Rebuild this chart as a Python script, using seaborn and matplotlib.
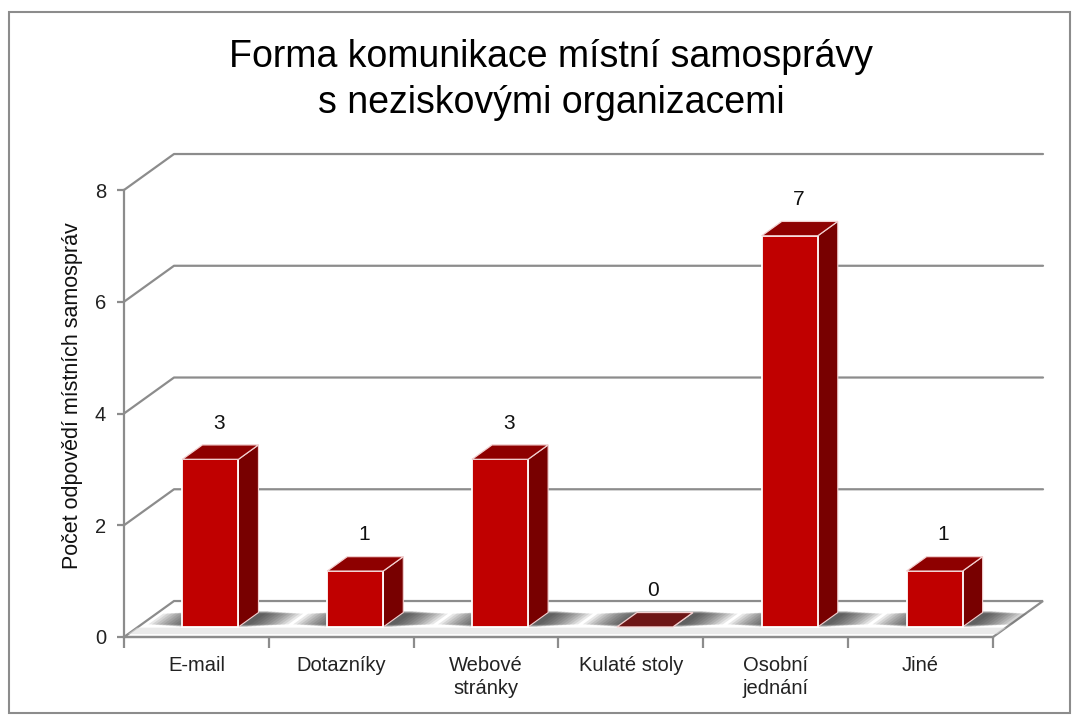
import matplotlib
matplotlib.use("Agg")
import matplotlib.pyplot as plt
from matplotlib.patches import Polygon, Rectangle
import seaborn as sns

categories = ["E-mail", "Dotazníky", "Webové\nstránky", "Kulaté stoly", "Osobní\njednání", "Jiné"]
values = [3, 1, 3, 0, 7, 1]
yticks = [0, 2, 4, 6, 8]
title = "Forma komunikace místní samosprávy\ns neziskovými organizacemi"
ylabel = "Počet odpovědí místních samospráv"

FRONT = "#C00000"
TOP = "#8E0000"
SIDE = "#780000"
GRID = "#8C8C8C"

sns.set_style("white")
plt.rcParams["font.family"] = ["Liberation Sans", "DejaVu Sans"]

W, H = 1077, 715
fig = plt.figure(figsize=(W / 100, H / 100), dpi=100)
# plot area in pixels: front plane x 124..993, y 190..637
ax = fig.add_axes([124 / W, (H - 637) / H, (993 - 124) / W, (637 - 190) / H])

sns.barplot(x=categories, y=values, width=0.387, color=FRONT, ax=ax,
            saturation=1, edgecolor="white", linewidth=1.3, zorder=5)
ax.set_xlim(-0.5, 5.5)
ax.set_ylim(0, 8)

# depth vector (full depth of the box) in data units
DX, DY = 50 / 144.8, 36 / 55.9
f0, f1 = 0.28, 0.68          # bar front / back depth


def slab(xa, xb, d0, d1):
    """parallelogram on the floor between depths d0..d1"""
    return [(xa + d0 * DX, d0 * DY), (xb + d0 * DX, d0 * DY),
            (xb + d1 * DX, d1 * DY), (xa + d1 * DX, d1 * DY)]


# back wall grid + left wall diagonals
for y in yticks[1:]:
    ax.plot([-0.5, -0.5 + DX, 5.5 + DX], [y, y + DY, y + DY],
            color=GRID, lw=1.6, clip_on=False, zorder=1)

# floor
ax.add_patch(Polygon(slab(-0.5, 5.5, 0, 1), closed=True, facecolor="white",
                     edgecolor=GRID, lw=1.6, clip_on=False, zorder=1.5))
ax.add_patch(Polygon(slab(-0.5, 5.5, 0.08, 0.26), closed=True, facecolor="#DCDCDC",
                     edgecolor="none", alpha=0.6, clip_on=False, zorder=1.6))

# 3d bars built from the seaborn patches
for i, (p, v) in enumerate(zip(ax.patches[:len(values)], values)):
    w = p.get_width()
    xa = p.get_x()
    x0 = xa + f0 * DX
    p.set_x(x0)
    p.set_y(f0 * DY)
    p.set_clip_on(False)
    x1 = x0 + w
    b = f0 * DY
    t = b + v
    ddx, ddy = (f1 - f0) * DX, (f1 - f0) * DY

    # soft floor shadow around the bar
    for k in range(11):
        hw = w / 2 + 0.03 + 0.026 * k
        d0 = 0.28 + 0.007 * k
        d1 = 0.72 - 0.007 * k
        ax.add_patch(Polygon(slab(i - hw + 0.03, i + hw + 0.03, d0, d1), closed=True,
                             facecolor="#1E1E1E", edgecolor="none", alpha=0.1,
                             clip_on=False, zorder=2))

    top_col = TOP if v > 0 else "#6E1616"
    ax.add_patch(Polygon([(x1, b), (x1 + ddx, b + ddy), (x1 + ddx, t + ddy), (x1, t)],
                         closed=True, facecolor=SIDE, edgecolor="#F2D0D0",
                         lw=0.8, clip_on=False, zorder=4))
    ax.add_patch(Polygon([(x0, t), (x1, t), (x1 + ddx, t + ddy), (x0 + ddx, t + ddy)],
                         closed=True, facecolor=top_col, edgecolor="#F2D0D0",
                         lw=0.9, clip_on=False, zorder=6))
    if v == 0:
        p.set_edgecolor("none")

    cx = xa + w / 2 + 0.48 * DX
    ax.text(cx - 0.01, v + 0.48 * DY + 0.52, str(v), ha="center", va="center",
            fontsize=15, color="#111111", zorder=7)

# axes styling
for s in ["top", "right"]:
    ax.spines[s].set_visible(False)
for s in ["left", "bottom"]:
    ax.spines[s].set_color(GRID)
    ax.spines[s].set_linewidth(1.6)
    ax.spines[s].set_zorder(8)

ax.set_yticks(yticks)
ax.set_yticklabels([str(t) for t in yticks])
ax.tick_params(axis="y", direction="out", length=5, width=1.6, color=GRID,
               labelsize=14.5, labelcolor="#222222", pad=8, left=True)
ax.set_xticks(range(len(categories)))
ax.set_xticklabels(categories, linespacing=1.25)
ax.set_xticks([i - 0.5 for i in range(len(categories) + 1)], minor=True)
ax.tick_params(axis="x", which="major", length=0, labelsize=14.5,
               labelcolor="#222222", pad=14)
ax.tick_params(axis="x", which="minor", direction="out", length=8, width=1.6,
               color=GRID, bottom=True)
ax.set_xlabel("")
ax.set_ylabel(ylabel, fontsize=15.5, color="#111111")
ax.yaxis.set_label_coords(-0.047, 0.54)
ax.patch.set_alpha(0)

fig.text(551 / W, 1 - 80 / H, title, ha="center", va="center",
         fontsize=27, color="black", linespacing=1.33)

fig.add_artist(Rectangle((9 / W, 2 / H), 1061 / W, 701 / H,
                         transform=fig.transFigure, fill=False,
                         edgecolor="#8C8C8C", lw=1.5))

fig.savefig("out.png", dpi=100)
